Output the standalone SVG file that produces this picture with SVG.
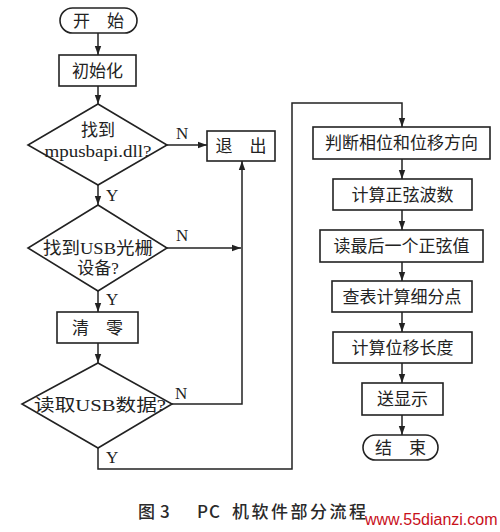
<svg xmlns="http://www.w3.org/2000/svg" width="500" height="532" viewBox="0 0 500 532">
<defs>
<marker id="ah" markerWidth="10" markerHeight="8" refX="9" refY="4" orient="auto" markerUnits="userSpaceOnUse">
<path d="M0,0.8 L9,4 L0,7.2 Z" fill="#222"/>
</marker>
<style>
.n{fill:#fff;stroke:#222;stroke-width:1.6}
.t{font-family:"Liberation Serif","Noto Sans CJK SC",serif;font-size:17px;fill:#222;text-anchor:middle}
.l{font-family:"Liberation Serif",serif;font-size:17px;fill:#222}
.c{fill:none;stroke:#222;stroke-width:1.5}
.cap{font-family:"Noto Sans CJK SC","Liberation Sans",sans-serif;font-size:17px;font-weight:500;fill:#2a2a2a}
</style>
</defs>
<rect width="500" height="532" fill="#fff"/>
<g id="start"><rect class="n" x="60" y="8" width="77" height="25" rx="12.5"/><text class="t" x="98.5" y="27">开　始</text></g>
<g id="init"><rect class="n" x="59" y="55" width="77" height="31"/><text class="t" x="97.5" y="77">初始化</text></g>
<g id="d1"><polygon class="n" points="98,104 167,145 98,185 28,145"/><text class="t" x="98" y="136">找到</text><text class="t" x="98" y="157" textLength="107" lengthAdjust="spacingAndGlyphs">mpusbapi.dll?</text></g>
<g id="exit"><rect class="n" x="207" y="131" width="68" height="30"/><text class="t" x="241" y="152">退　出</text></g>
<g id="d2"><polygon class="n" points="98,205 167,248 98,291 28,248"/><text class="t" x="98" y="254" textLength="110" lengthAdjust="spacingAndGlyphs">找到USB光栅</text><text class="t" x="98" y="274">设备?</text></g>
<g id="clear"><rect class="n" x="57" y="312" width="81" height="31"/><text class="t" x="97.5" y="334">清　零</text></g>
<g id="d3"><polygon class="n" points="98,363 172,404 98,448 22,404"/><text class="t" x="100" y="411" textLength="132" lengthAdjust="spacingAndGlyphs">读取USB数据?</text></g>
<g id="b1"><rect class="n" x="313" y="127" width="177" height="32"/><text class="t" x="401.5" y="149">判断相位和位移方向</text></g>
<g id="b2"><rect class="n" x="333" y="179" width="139" height="31"/><text class="t" x="402.5" y="201">计算正弦波数</text></g>
<g id="b3"><rect class="n" x="320" y="230" width="163" height="32"/><text class="t" x="401.5" y="252">读最后一个正弦值</text></g>
<g id="b4"><rect class="n" x="332" y="281" width="140" height="31"/><text class="t" x="402" y="303">查表计算细分点</text></g>
<g id="b5"><rect class="n" x="333" y="332" width="139" height="31"/><text class="t" x="402.5" y="354">计算位移长度</text></g>
<g id="b6"><rect class="n" x="362" y="383" width="81" height="32"/><text class="t" x="402.5" y="405">送显示</text></g>
<g id="end"><rect class="n" x="363" y="435" width="75" height="25" rx="12.5"/><text class="t" x="400.5" y="454">结　束</text></g>
<g id="connectors">
<line class="c" x1="98" y1="33" x2="98" y2="55" marker-end="url(#ah)"/>
<line class="c" x1="98" y1="86" x2="98" y2="104" marker-end="url(#ah)"/>
<line class="c" x1="167" y1="145" x2="207" y2="145" marker-end="url(#ah)"/>
<line class="c" x1="98" y1="185" x2="98" y2="205" marker-end="url(#ah)"/>
<line class="c" x1="167" y1="248" x2="241" y2="248" marker-end="url(#ah)"/>
<polyline class="c" points="172,404 242,404 242,161" marker-end="url(#ah)"/>
<line class="c" x1="98" y1="291" x2="98" y2="312" marker-end="url(#ah)"/>
<line class="c" x1="98" y1="343" x2="98" y2="363" marker-end="url(#ah)"/>
<polyline class="c" points="98,448 98,469 292,469 292,103 402,103 402,127" marker-end="url(#ah)"/>
<line class="c" x1="402" y1="159" x2="402" y2="179" marker-end="url(#ah)"/>
<line class="c" x1="402" y1="210" x2="402" y2="230" marker-end="url(#ah)"/>
<line class="c" x1="402" y1="262" x2="402" y2="281" marker-end="url(#ah)"/>
<line class="c" x1="402" y1="312" x2="402" y2="332" marker-end="url(#ah)"/>
<line class="c" x1="402" y1="363" x2="402" y2="383" marker-end="url(#ah)"/>
<line class="c" x1="402" y1="415" x2="402" y2="435" marker-end="url(#ah)"/>
<text class="l" x="176" y="139">N</text>
<text class="l" x="106" y="201">Y</text>
<text class="l" x="176" y="241">N</text>
<text class="l" x="106" y="305">Y</text>
<text class="l" x="175" y="399">N</text>
<text class="l" x="106" y="463">Y</text>
</g>
<text class="cap" x="138" y="518">图</text>
<text class="cap" x="160" y="518">3</text>
<text class="cap" x="197" y="518" letter-spacing="1">PC</text>
<text class="cap" x="232" y="518" letter-spacing="2.5">机软件部分流程</text>
<text x="365" y="525" font-family="'Liberation Sans',sans-serif" font-size="16" fill="#c8101a">www.55dianzi.com</text>
</svg>
